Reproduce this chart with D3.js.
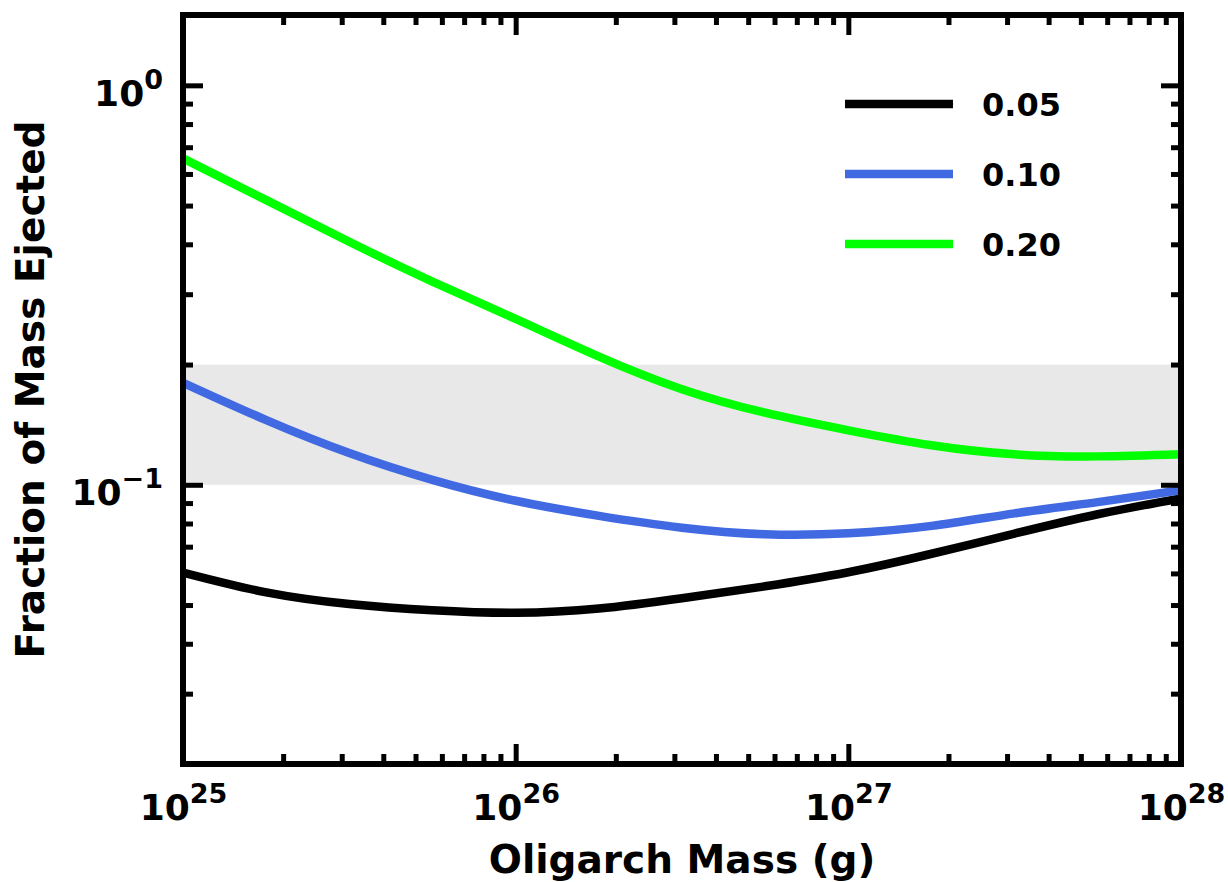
<!DOCTYPE html>
<html>
<head>
<meta charset="utf-8">
<script src="https://cdn.jsdelivr.net/npm/d3@7"></script>
<style>
  html, body { margin: 0; padding: 0; background: #fff; }
  svg { display: block; }
  text { font-family: "DejaVu Sans", sans-serif; font-weight: bold; fill: #000; }
</style>
</head>
<body>
<svg id="chart" width="1228" height="882"></svg>
<script>
// Oligarch mass (g), sampled every quarter decade
const massGrams = [1.00e25, 1.78e25, 3.16e25, 5.62e25, 1.00e26, 1.78e26, 3.16e26, 5.62e26, 1.00e27, 1.78e27, 3.16e27, 5.62e27, 1.00e28];
// Fraction of mass ejected, one array per parameter value
const frac005 = [0.0603, 0.0538, 0.0503, 0.0485, 0.0478, 0.0490, 0.0520, 0.0557, 0.0604, 0.0672, 0.0755, 0.0844, 0.0925];
const frac010 = [0.1801, 0.1452, 0.1201, 0.1029, 0.0912, 0.0836, 0.0781, 0.0752, 0.0756, 0.0789, 0.0848, 0.0905, 0.0969];
const frac020 = [0.6562, 0.5161, 0.4060, 0.3227, 0.2602, 0.2093, 0.1735, 0.1515, 0.1369, 0.1256, 0.1192, 0.1178, 0.1193];
const seriesLabels = ["0.05", "0.10", "0.20"];
const seriesColors = ["#000000", "#4169e1", "#00ff00"];
// Shaded reference range of the ejected fraction
const bandRange = [0.1, 0.2];
// Axis ranges and labelled ticks
const xDomain = [1e25, 1e28];
const yDomain = [0.02, 1.5];
const xMajorExp = [25, 26, 27, 28];
const yMajorExp = [0, -1];
const xTitle = "Oligarch Mass (g)";
const yTitle = "Fraction of Mass Ejected";

const svg = d3.select("#chart");
const m = { left: 183, top: 15, right: 1181, bottom: 764 };

const x = d3.scaleLog().domain(xDomain).range([m.left, m.right]);
const y = d3.scaleLog().domain(yDomain).range([m.bottom, m.top]);

svg.append("defs").append("clipPath").attr("id", "plot-clip")
  .append("rect")
  .attr("x", m.left).attr("y", m.top)
  .attr("width", m.right - m.left).attr("height", m.bottom - m.top);

// grey band
svg.append("rect")
  .attr("x", m.left).attr("width", m.right - m.left)
  .attr("y", y(bandRange[1])).attr("height", y(bandRange[0]) - y(bandRange[1]))
  .attr("fill", "#e8e8e8");

// curves
const series = [frac005, frac010, frac020];
const line = d3.line()
  .x((d, i) => x(massGrams[i]))
  .y(d => y(d))
  .curve(d3.curveNatural);

const plot = svg.append("g").attr("clip-path", "url(#plot-clip)");
series.forEach((vals, k) => {
  plot.append("path")
    .datum(vals)
    .attr("d", line)
    .attr("fill", "none")
    .attr("stroke", seriesColors[k])
    .attr("stroke-width", 8.5)
    .attr("stroke-linecap", "butt");
});

// legend
const legend = svg.append("g");
seriesLabels.forEach((lab, k) => {
  const ly = 104 + k * 70;
  legend.append("line")
    .attr("x1", 845).attr("x2", 953)
    .attr("y1", ly).attr("y2", ly)
    .attr("stroke", seriesColors[k]).attr("stroke-width", 8.5);
  legend.append("text")
    .attr("x", 982).attr("y", ly + 11.5)
    .attr("font-size", 32)
    .text(lab);
});

// tick values
const xMinor = [];
for (let e = 25; e < 28; e++) for (let k = 2; k <= 9; k++) xMinor.push(k * Math.pow(10, e));
const yMinor = [];
for (let e = -2; e <= -1; e++) for (let k = 2; k <= 9; k++) yMinor.push(k * Math.pow(10, e));
const xMajor = xMajorExp.map(e => Math.pow(10, e));
const yMajor = yMajorExp.map(e => Math.pow(10, e));

function styleAxis(g) {
  g.select(".domain").remove();
  g.selectAll(".tick line").attr("stroke", "#000").attr("stroke-width", 5);
}

// minor ticks, all four sides
svg.append("g").attr("transform", `translate(0,${m.bottom})`)
  .call(d3.axisBottom(x).tickValues(xMinor).tickSize(-10).tickFormat(""))
  .call(styleAxis);
svg.append("g").attr("transform", `translate(0,${m.top})`)
  .call(d3.axisTop(x).tickValues(xMinor).tickSize(-10).tickFormat(""))
  .call(styleAxis);
svg.append("g").attr("transform", `translate(${m.left},0)`)
  .call(d3.axisLeft(y).tickValues(yMinor).tickSize(-10).tickFormat(""))
  .call(styleAxis);
svg.append("g").attr("transform", `translate(${m.right},0)`)
  .call(d3.axisRight(y).tickValues(yMinor).tickSize(-10).tickFormat(""))
  .call(styleAxis);

// major ticks
const xAxis = svg.append("g").attr("transform", `translate(0,${m.bottom})`)
  .call(d3.axisBottom(x).tickValues(xMajor).tickSize(-20).tickPadding(0).tickFormat(""))
  .call(styleAxis);
svg.append("g").attr("transform", `translate(0,${m.top})`)
  .call(d3.axisTop(x).tickValues(xMajor).tickSize(-20).tickFormat(""))
  .call(styleAxis);
const yAxis = svg.append("g").attr("transform", `translate(${m.left},0)`)
  .call(d3.axisLeft(y).tickValues(yMajor).tickSize(-20).tickFormat(""))
  .call(styleAxis);
svg.append("g").attr("transform", `translate(${m.right},0)`)
  .call(d3.axisRight(y).tickValues(yMajor).tickSize(-20).tickFormat(""))
  .call(styleAxis);

// power-of-ten labels with superscripts
function powerLabel(textSel, exp) {
  textSel.text(null);
  textSel.append("tspan").attr("font-size", 36).text("10");
  textSel.append("tspan").attr("font-size", 27).attr("dy", -17)
    .text(exp < 0 ? "\u2212" + Math.abs(exp) : String(exp));
}

xAxis.selectAll(".tick").each(function (d) {
  const t = d3.select(this).select("text");
  t.attr("y", 56).attr("dy", null).attr("text-anchor", "middle").attr("fill", "#000");
  powerLabel(t, Math.round(Math.log10(d)));
});
yAxis.selectAll(".tick").each(function (d) {
  const t = d3.select(this).select("text");
  t.attr("x", -20).attr("dy", null).attr("y", 20).attr("text-anchor", "end").attr("fill", "#000");
  powerLabel(t, Math.round(Math.log10(d)));
});
svg.selectAll(".tick text").attr("font-family", null).attr("font-size", null);

// frame
svg.append("rect")
  .attr("x", m.left).attr("y", m.top)
  .attr("width", m.right - m.left).attr("height", m.bottom - m.top)
  .attr("fill", "none").attr("stroke", "#000").attr("stroke-width", 6);

// axis titles
svg.append("text")
  .attr("x", (m.left + m.right) / 2).attr("y", 873)
  .attr("text-anchor", "middle").attr("font-size", 39)
  .text(xTitle);
svg.append("text")
  .attr("transform", `translate(44,${(m.top + m.bottom) / 2}) rotate(-90)`)
  .attr("text-anchor", "middle").attr("font-size", 39)
  .text(yTitle);
</script>
</body>
</html>
